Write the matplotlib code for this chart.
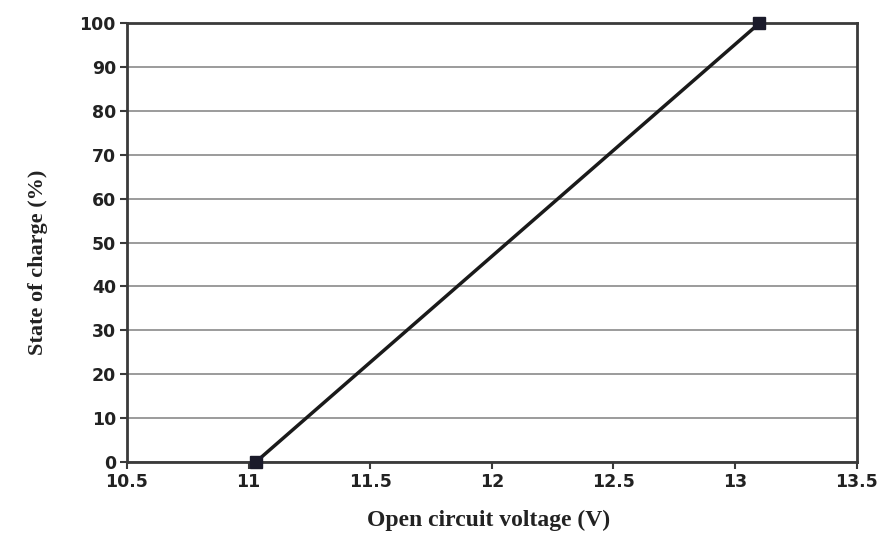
import matplotlib.pyplot as plt
import numpy as np

voltage = [11.03, 13.1]
soc = [0, 100]
x_ticks = [10.5, 11, 11.5, 12, 12.5, 13, 13.5]
x_labels = ['10.5', '11', '11.5', '12', '12.5', '13', '13.5']
y_ticks = np.arange(0, 101, 10)

fig = plt.figure(figsize=(8.85, 5.39), dpi=100)
ax = fig.add_axes([0.1435, 0.143, 0.8245, 0.814])

ax.plot(voltage, soc, color='#1a1a1a', linewidth=2.5, marker='s',
        markersize=8, markerfacecolor='#1a1a2a', markeredgecolor='#1a1a2a',
        clip_on=False, zorder=5)

ax.set_xlim(10.5, 13.5)
ax.set_ylim(0, 100)
ax.set_xticks(x_ticks)
ax.set_xticklabels(x_labels)
ax.set_yticks(y_ticks)

ax.yaxis.grid(True, color='#8a8a8a', linewidth=1.2)
ax.set_axisbelow(True)

for side in ['left', 'right', 'top', 'bottom']:
    ax.spines[side].set_color('#3a3a3a')
    ax.spines[side].set_linewidth(2)

ax.tick_params(axis='both', direction='out', length=5, width=1.5,
               color='#3a3a3a', labelsize=12.5, pad=3)
for lab in ax.get_xticklabels() + ax.get_yticklabels():
    lab.set_fontweight('bold')
    lab.set_family('DejaVu Sans')
    lab.set_color('#222222')

ax.set_xlabel('Open circuit voltage (V)', family='Liberation Serif',
              fontweight='bold', fontsize=17, color='#222222')
ax.xaxis.set_label_coords(0.495, -0.11)
ax.set_ylabel('State of charge (%)', family='Liberation Serif',
              fontweight='bold', fontsize=16, color='#222222')
ax.yaxis.set_label_coords(-0.108, 0.455)

fig.savefig('out.png', dpi=100)
